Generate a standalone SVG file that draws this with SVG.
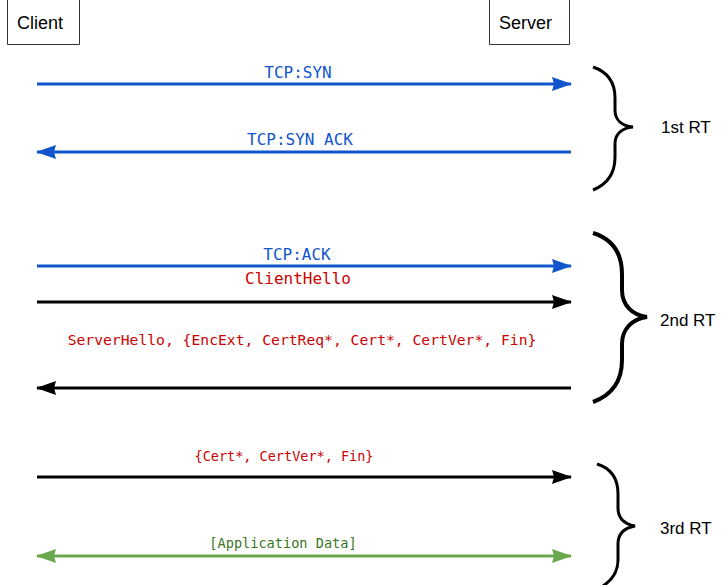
<svg xmlns="http://www.w3.org/2000/svg" width="721" height="585" viewBox="0 0 721 585">
  <style>
    .box { fill: #ffffff; stroke: #333333; stroke-width: 1; }
    .actor { font-family: "Liberation Sans", Arial, sans-serif; font-size: 18px; fill: #000000; }
    .rt { font-family: "Liberation Sans", Arial, sans-serif; font-size: 17px; fill: #000000; }
    .msg { font-family: "DejaVu Sans Mono", "Liberation Mono", monospace; text-anchor: middle; }
    .blue { fill: #1155cc; }
    .red { fill: #cc0000; }
    .green { fill: #38761d; }
    .line { fill: none; stroke-width: 3; }
    .brace { fill: none; stroke: #000000; stroke-linecap: butt; }
  </style>
  <defs>
    <marker id="headBlue" viewBox="0 0 20 14" refX="19" refY="7" markerUnits="userSpaceOnUse" markerWidth="20" markerHeight="14" orient="auto-start-reverse">
      <path d="M0,0 L20,7 L0,14 L2,7 Z" fill="#1155cc"/>
    </marker>
    <marker id="headBlack" viewBox="0 0 20 14" refX="19" refY="7" markerUnits="userSpaceOnUse" markerWidth="20" markerHeight="14" orient="auto-start-reverse">
      <path d="M0,0 L20,7 L0,14 L2,7 Z" fill="#000000"/>
    </marker>
    <marker id="headGreen" viewBox="0 0 20 14" refX="19" refY="7" markerUnits="userSpaceOnUse" markerWidth="20" markerHeight="14" orient="auto-start-reverse">
      <path d="M0,0 L20,7 L0,14 L2,7 Z" fill="#6aa84f"/>
    </marker>
  </defs>

  <g id="client">
    <path class="box" d="M7.5,-1 V44.5 H79.5 V-1"/>
    <text class="actor" x="17" y="29">Client</text>
  </g>
  <g id="server">
    <path class="box" d="M489.5,-1 V44.5 H569.5 V-1"/>
    <text class="actor" x="499" y="29">Server</text>
  </g>

  <g id="connectors">
    <line class="line" x1="37" y1="84" x2="571" y2="84" stroke="#1155cc" marker-end="url(#headBlue)"/>
    <line class="line" x1="571" y1="152" x2="37" y2="152" stroke="#1155cc" marker-end="url(#headBlue)"/>
    <line class="line" x1="37" y1="266" x2="571" y2="266" stroke="#1155cc" marker-end="url(#headBlue)"/>
    <line class="line" x1="37" y1="302" x2="571" y2="302" stroke="#000000" marker-end="url(#headBlack)"/>
    <line class="line" x1="571" y1="388" x2="37" y2="388" stroke="#000000" marker-end="url(#headBlack)"/>
    <line class="line" x1="37" y1="477" x2="571" y2="477" stroke="#000000" marker-end="url(#headBlack)"/>
    <line class="line" x1="37" y1="556" x2="571" y2="556" stroke="#6aa84f" marker-start="url(#headGreen)" marker-end="url(#headGreen)"/>
  </g>

  <g id="labels">
    <text class="msg blue" x="298" y="78" font-size="16">TCP:SYN</text>
    <text class="msg blue" x="300" y="145" font-size="16">TCP:SYN ACK</text>
    <text class="msg blue" x="297" y="260" font-size="16">TCP:ACK</text>
    <text class="msg red" x="298" y="284" font-size="16">ClientHello</text>
    <text class="msg red" x="302" y="345" font-size="14.7">ServerHello, {EncExt, CertReq*, Cert*, CertVer*, Fin}</text>
    <text class="msg red" x="284" y="461" font-size="13.5">{Cert*, CertVer*, Fin}</text>
    <text class="msg green" x="283" y="548" font-size="13.6">[Application Data]</text>
  </g>

  <g id="rt1">
    <path class="brace" stroke-width="3" d="M593,67 C608,72 615,82 615,98 V110 C615,120 622,126 633,127 C622,128 615,134 615,144 V157 C615,173 608,184 593,190"/>
    <text class="rt" x="661" y="133">1st RT</text>
  </g>
  <g id="rt2">
    <path class="brace" stroke-width="4" d="M593,233 C612,239 622,252 622,274 V290 C622,305 632,315 647,317 C632,319 622,329 622,344 V360 C622,382 612,395 593,402"/>
    <text class="rt" x="660" y="326">2nd RT</text>
  </g>
  <g id="rt3">
    <path class="brace" stroke-width="3" d="M597,464 C610,468 618,478 618,494 V508 C618,518 624,524 635,526 C624,528 618,534 618,544 V560 C618,572 612,580 603,586"/>
    <text class="rt" x="660" y="534">3rd RT</text>
  </g>
</svg>
